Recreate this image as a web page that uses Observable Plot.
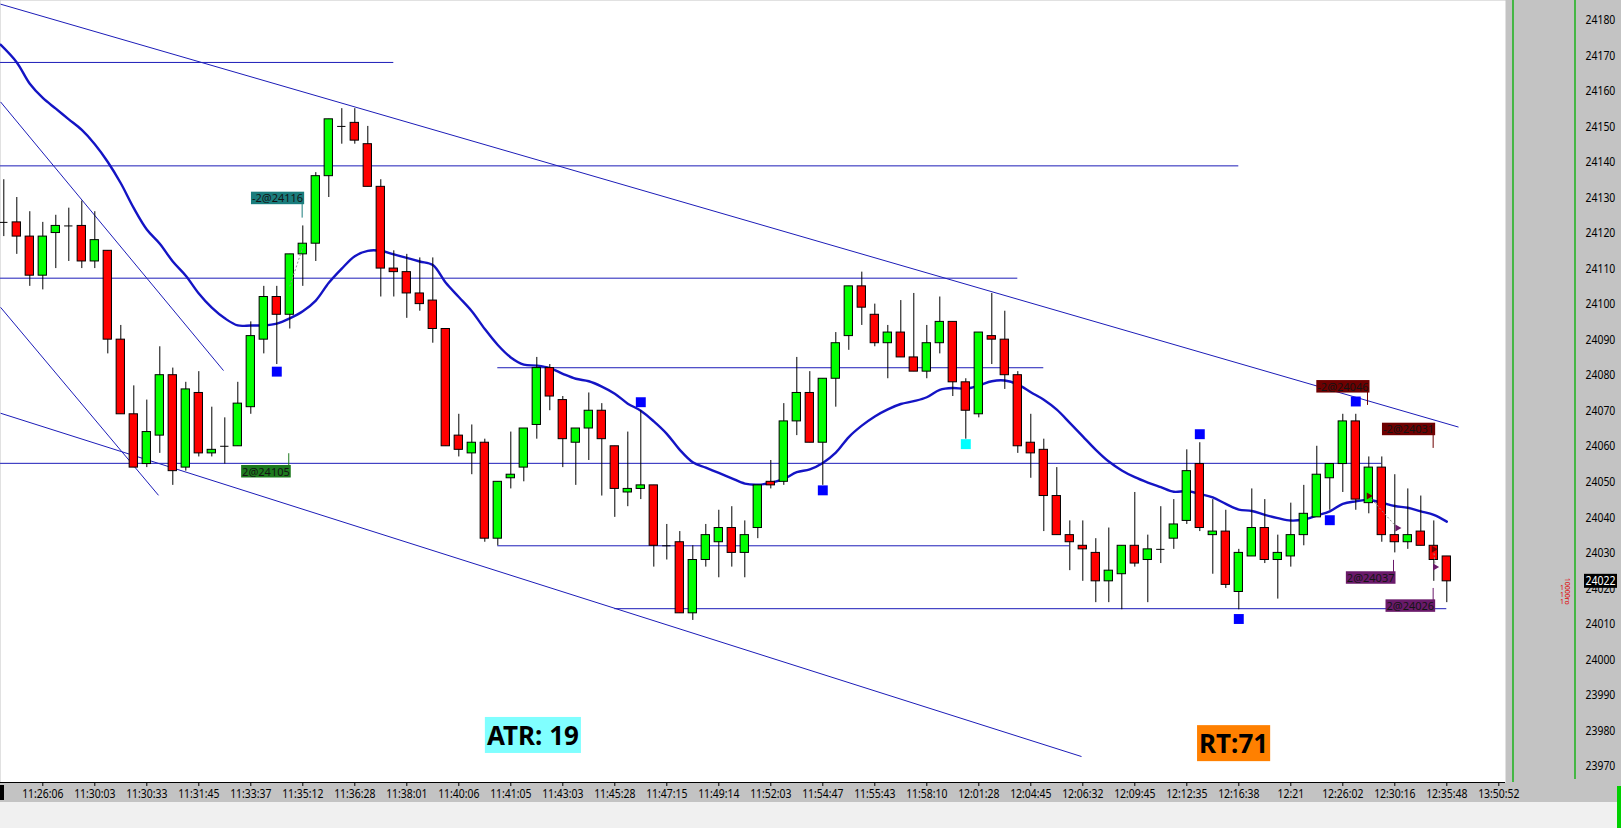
<!DOCTYPE html>
<html>
<head>
<meta charset="utf-8">
<script src="https://cdn.jsdelivr.net/npm/d3@7"></script>
<script src="https://cdn.jsdelivr.net/npm/@observablehq/plot@0.6"></script>
<style>
  html, body { margin: 0; padding: 0; background: #f0f0f0; overflow: hidden; }
  #chart svg { display: block; }
</style>
</head>
<body>
<div id="chart"></div>
<script>
// ---------- DATA ----------
const openP = [24123,24123,24119,24108,24120,24122,24122,24112,24115,24090,24069,24055,24063,24080,24054,24075,24058,24060,24060,24071,
  24090,24102,24097,24114,24117,24136,24150,24151,24145,24133,24110,24109,24103,24101,24093,24063,24058,24061,24034,24051,
  24054,24066,24082,24073,24061,24065,24070,24060,24047,24048,24049,24032,24033,24013,24028,24033,24037,24030,24037,24050,
  24050,24067,24075,24061,24079,24091,24105,24097,24089,24092,24085,24081,24089,24095,24078,24069,24091,24090,24080,24061,
  24059,24046,24035,24032,24030,24022,24024,24032,24028,24031,24034,24039,24055,24035,24036,24019,24029,24037,24028,24029,
  24035,24040,24051,24055,24067,24044,24054,24035,24033,24036,24032,24029];
const highP = [24135,24130,24126,24123,24125,24127,24129,24126,24115,24094,24077,24073,24088,24082,24078,24081,24071,24068,24078,24095,
  24105,24105,24114,24122,24137,24152,24155,24155,24150,24135,24115,24114,24113,24113,24093,24069,24066,24062,24050,24064,
  24065,24085,24083,24074,24065,24075,24072,24060,24064,24070,24049,24038,24036,24032,24038,24042,24043,24039,24049,24056,
  24072,24085,24081,24079,24092,24105,24109,24100,24094,24101,24103,24094,24102,24095,24079,24092,24103,24098,24081,24069,
  24062,24054,24039,24039,24034,24037,24032,24047,24035,24043,24045,24059,24061,24045,24042,24031,24048,24045,24035,24044,
  24049,24060,24055,24069,24069,24057,24057,24052,24048,24046,24039,24029];
const lowP = [24119,24114,24105,24104,24110,24112,24110,24110,24086,24069,24054,24054,24058,24049,24053,24057,24057,24055,24060,24069,
  24086,24083,24093,24105,24112,24130,24145,24145,24133,24102,24102,24096,24098,24089,24060,24057,24052,24033,24032,24048,
  24050,24062,24070,24054,24049,24056,24046,24040,24043,24045,24026,24028,24013,24011,24026,24023,24026,24023,24034,24048,
  24049,24063,24061,24049,24071,24087,24094,24088,24079,24085,24081,24079,24086,24074,24062,24068,24083,24076,24058,24051,
  24036,24035,24025,24022,24016,24016,24014,24026,24016,24027,24031,24038,24036,24024,24020,24014,24029,24027,24017,24026,
  24032,24040,24042,24047,24042,24041,24033,24030,24031,24032,24022,24016];
const closeP = [24123,24119,24108,24119,24122,24122,24112,24118,24090,24069,24054,24064,24080,24053,24076,24058,24059,24060,24072,24091,
  24102,24097,24114,24117,24136,24152,24150,24146,24133,24110,24109,24103,24100,24093,24060,24059,24061,24034,24050,24052,
  24065,24082,24074,24062,24065,24070,24062,24048,24048,24049,24032,24032,24013,24028,24035,24037,24030,24035,24049,24049,
  24067,24075,24061,24079,24089,24105,24099,24089,24092,24085,24081,24089,24095,24078,24070,24092,24090,24080,24060,24058,
  24046,24035,24033,24031,24022,24025,24032,24027,24031,24031,24038,24053,24037,24036,24021,24030,24037,24028,24030,24035,
  24041,24052,24055,24067,24045,24054,24035,24033,24035,24032,24028,24022];
const maP = [24173,24168,24162,24158,24155,24152,24149,24145,24140,24134,24127,24121,24117,24112,24108,24103,24099,24096,24094,24094,
  24094,24094.5,24096,24098,24101,24106,24110,24113.5,24115,24115,24114,24113,24112,24111,24106,24102,24098,24093,24088.5,24085,
  24083,24082.7,24082,24080.4,24079,24078.3,24076.8,24074.8,24072,24070,24067,24063.5,24059,24055.5,24054,24052.5,24051,24049.5,24049.2,24049.7,
  24050.8,24052.7,24053.5,24055.3,24058.2,24062.6,24065.8,24068.4,24070.4,24071.9,24072.7,24073.8,24075.9,24076.4,24076.2,24077.1,24078.3,24078.5,24077.4,24075.2,
  24073.1,24070.3,24066.6,24062.8,24059,24055.7,24053.2,24051.3,24049.8,24048.5,24047.2,24047.4,24046.6,24045.6,24043.8,24042.2,24041.8,24040.7,24039.8,24039.1,
  24039.4,24040.5,24041.7,24043.8,24044.5,24044.9,24044.1,24043.2,24042.7,24041.7,24040.7,24038.8];

// x-axis tick labels (bar index -> time)
const tickIdx = [3,7,11,15,19,23,27,31,35,39,43,47,51,55,59,63,67,71,75,79,83,87,91,95,99,103,107,111,115];
const tickLabels = ["11:26:06","11:30:03","11:30:33","11:31:45","11:33:37","11:35:12","11:36:28","11:38:01","11:40:06","11:41:05",
  "11:43:03","11:45:28","11:47:15","11:49:14","11:52:03","11:54:47","11:55:43","11:58:10","12:01:28","12:04:45",
  "12:06:32","12:09:45","12:12:35","12:16:38","12:21","12:26:02","12:30:16","12:35:48","13:50:52"];
const yTicks = d3.range(23970, 24181, 10);

// horizontal levels
const levelPrice = [24168, 24138.9, 24107.3, 24082.1, 24055.2, 24032, 24014.3];
const levelFrom  = [-0.25, -0.25, -0.25, 38, -0.25, 38, 47];
const levelTo    = [30, 95, 78, 80, 106, 82, 111];

// trend lines
const trendFromIdx = [-0.25, -0.25, -0.25, -0.25];
const trendFromPrice = [24184.4, 24069.3, 24156.9, 24099.1];
const trendToIdx = [111.9, 82.9, 16.9, 11.9];
const trendToPrice = [24065.4, 23972.7, 24081.3, 24046.2];

// signal squares
const sqIdx = [21, 49, 63, 92, 95, 102, 104, 74];
const sqPrice = [24081, 24072.4, 24047.6, 24063.4, 24011.4, 24039.2, 24072.6, 24060.6];
const sqColor = ["#0000ff","#0000ff","#0000ff","#0000ff","#0000ff","#0000ff","#0000ff","#00ffff"];

// trade labels
const tradeText = ["-2@24116", "2@24105", "-2@24046", "-2@24031", "2@24037", "2@24026"];
const tradeIdx = [22.95, 21.92, 104.9, 109.95, 106.9, 109.95];
const tradePrice = [24129.6, 24052.7, 24076.6, 24064.6, 24022.8, 24014.9];
const tradeTickEnd = [24124.2, 24057.9, 24071.5, 24059.4, 24027.9, 24020.0];
const tradeColor = ["#1a7d7d", "#1d7a1d", "#6e0000", "#6e0000", "#6a1a6a", "#6a1a6a"];

// trade executions (markers) and connectors
const fillIdx = [105, 107.2, 110, 110.1];
const fillPrice = [24046, 24037, 24031, 24026];
const fillColor = ["#6e0000", "#6a1a6a", "#6e0000", "#6a1a6a"];
const connFromIdx = [22, 105, 110];
const connFromPrice = [24105, 24046, 24031];
const connToIdx = [23, 107.2, 110.1];
const connToPrice = [24116, 24037, 24026];

// info boxes
const infoText = ["ATR: 19", "RT:71"];
const infoIdx = [40.7, 94.6];
const infoPrice = [23978.3, 23976];
const infoColor = ["#80ffff", "#ff8000"];

const lastPrice = closeP[closeP.length - 1];

// ---------- CHART ----------
const bars = d3.range(openP.length);
const dojis = bars.filter(i => Math.abs(openP[i] - closeP[i]) < 0.5);
const bodies = bars.filter(i => Math.abs(openP[i] - closeP[i]) >= 0.5);
const half = 0.32;
const lineBlue = "#1c1cb8";
const axisFont = "'Noto Sans', sans-serif";

const chart = Plot.plot({
  width: 1621,
  height: 828,
  marginLeft: 0,
  marginRight: 116,
  marginTop: 0,
  marginBottom: 46,
  style: {
    background: "linear-gradient(to bottom, #c3c3c3 0px, #c3c3c3 802px, #f0f0f0 802px)",
    fontFamily: axisFont,
    fontSize: "13px",
    color: "black",
    overflow: "visible"
  },
  x: { domain: [-3.3 / 13, (1505 - 3.3) / 13] },
  y: { domain: [24180 - 762.7 / 3.554, 24180 + 19.3 / 3.554] },
  marks: [
    Plot.frame({ fill: "white", stroke: "none" }),
    Plot.ruleY(d3.range(levelPrice.length), {
      y: i => levelPrice[i], x1: i => levelFrom[i], x2: i => levelTo[i],
      stroke: lineBlue, strokeWidth: 1
    }),
    Plot.link(d3.range(trendFromIdx.length), {
      x1: i => trendFromIdx[i], y1: i => trendFromPrice[i],
      x2: i => trendToIdx[i], y2: i => trendToPrice[i],
      stroke: lineBlue, strokeWidth: 1
    }),
    Plot.line(bars, { x: i => (i === 0 ? -0.25 : i), y: i => maP[i], stroke: "#1414c4", strokeWidth: 2.4, curve: "catmull-rom" }),
    Plot.ruleX(bars, { x: i => i, y1: i => lowP[i], y2: i => highP[i], stroke: "black", strokeWidth: 1 }),
    Plot.rect(bodies, {
      x1: i => i - half, x2: i => i + half,
      y1: i => Math.min(openP[i], closeP[i]), y2: i => Math.max(openP[i], closeP[i]),
      fill: i => (closeP[i] > openP[i] ? "#00ff00" : "#ff0000"),
      stroke: "black", strokeWidth: 1
    }),
    Plot.ruleY(dojis, { y: i => openP[i], x1: i => i - half, x2: i => i + half, stroke: "black", strokeWidth: 1 }),
    Plot.link(d3.range(connFromIdx.length), {
      x1: i => connFromIdx[i], y1: i => connFromPrice[i],
      x2: i => connToIdx[i], y2: i => connToPrice[i],
      stroke: "#909090", strokeWidth: 1, strokeDasharray: "2,2"
    }),
    Plot.dot(d3.range(fillIdx.length), {
      x: i => fillIdx[i], y: i => fillPrice[i], symbol: "triangle", r: 2.6,
      fill: i => fillColor[i], stroke: "none", rotate: 90
    }),
    Plot.dot(d3.range(sqIdx.length), {
      x: i => sqIdx[i], y: i => sqPrice[i], symbol: "square", r: 5.6,
      fill: i => sqColor[i], stroke: "none"
    }),
    Plot.ruleX(d3.range(tradeText.length), {
      x: i => tradeIdx[i], y1: i => tradePrice[i], y2: i => tradeTickEnd[i],
      stroke: i => tradeColor[i], strokeWidth: 1
    }),
    Plot.text(d3.range(tradeText.length), {
      x: i => tradeIdx[i], y: i => tradePrice[i], text: i => tradeText[i],
      textAnchor: "end", dx: 1, fontSize: 11, fontFamily: "'Noto Sans', sans-serif",
      fill: "#141414", className: "trade-label"
    }),
    Plot.text(d3.range(infoText.length), {
      x: i => infoIdx[i], y: i => infoPrice[i], text: i => infoText[i],
      fontSize: 26, fontWeight: "bold", fontFamily: "'Noto Sans', sans-serif",
      fill: "black", className: "info-label"
    }),
    Plot.axisX({
      ticks: tickIdx, tickFormat: d => tickLabels[tickIdx.indexOf(d)],
      tickSize: 4, tickPadding: 2, fontSize: 13, stroke: "black", fill: "black", className: "xlab"
    }),
    Plot.ruleY([0], { y: () => 24180 - 762.7 / 3.554, stroke: "black", strokeWidth: 1.2 }),
    Plot.axisY({
      anchor: "right", ticks: yTicks, tickFormat: d => String(d),
      tickSize: 0, tickPadding: 80, fontSize: 13, fill: "black", className: "ylab"
    })
  ]
});

document.getElementById("chart").appendChild(chart);

// ---------- narrow axis labels ----------
chart.querySelectorAll("g.xlab text, g.ylab text").forEach(t => {
  const w = t.getComputedTextLength();
  t.setAttribute("textLength", (w * 0.8).toFixed(1));
  t.setAttribute("lengthAdjust", "spacingAndGlyphs");
});

// ---------- label backgrounds ----------
const svgNS = "http://www.w3.org/2000/svg";
function boxes(cls, colors, padX, boxH) {
  const g = chart.querySelector("g." + cls);
  if (!g) return;
  const texts = Array.from(g.querySelectorAll("text"));
  texts.forEach((t, j) => {
    const b = t.getBBox();
    const r = document.createElementNS(svgNS, "rect");
    const cy = b.y + b.height / 2;
    r.setAttribute("x", b.x - padX);
    r.setAttribute("y", cy - boxH / 2);
    r.setAttribute("width", b.width + 2 * padX);
    r.setAttribute("height", boxH);
    r.setAttribute("fill", colors[j]);
    r.setAttribute("fill-opacity", 1);
    const tr = t.getAttribute("transform");
    if (tr) r.setAttribute("transform", tr);
    t.parentNode.insertBefore(r, t);
  });
}
boxes("trade-label", tradeColor, 1, 12.5);
boxes("info-label", infoColor, 2, 36);

// ---------- right panel decorations ----------
const xs = chart.scale("x"), ys = chart.scale("y");
const plotRight = xs.range[1];
const plotBottom = ys.range[0];
const deco = d3.select(chart).append("g").attr("text-anchor", "start");
deco.append("line").attr("x1", plotRight + 8).attr("x2", plotRight + 8)
  .attr("y1", 0).attr("y2", plotBottom).attr("stroke", "#00b000").attr("stroke-width", 1.3);
deco.append("line").attr("x1", plotRight + 70).attr("x2", plotRight + 70)
  .attr("y1", 0).attr("y2", plotBottom - 3).attr("stroke", "#00b000").attr("stroke-width", 1.3);
deco.append("rect").attr("x", 1617).attr("y", plotBottom + 4).attr("width", 4).attr("height", 42).attr("fill", "#00d000");
deco.append("rect").attr("x", 0).attr("y", plotBottom + 3).attr("width", 4).attr("height", 15).attr("fill", "black");
// current price marker
const yLast = ys.apply(lastPrice);
deco.append("rect").attr("x", plotRight + 79).attr("y", yLast - 7).attr("width", 33).attr("height", 14).attr("fill", "black");
deco.append("text").attr("x", plotRight + 80.5).attr("y", yLast).attr("dy", "0.35em")
  .attr("fill", "white").attr("font-size", 13).attr("font-family", axisFont)
  .attr("textLength", 30).attr("lengthAdjust", "spacingAndGlyphs").text(String(lastPrice));
// small red marker text near price axis
["1", "1", "1"].forEach((s, j) => {
  deco.append("text").attr("x", plotRight + 55).attr("y", yLast + 9 + j * 7).attr("fill", "#e00000")
    .attr("font-size", 7).attr("font-family", axisFont).text(s);
});
deco.append("text").attr("transform", `translate(${plotRight + 60},${yLast - 3}) rotate(90)`)
  .attr("fill", "#e00000").attr("font-size", 7).attr("font-family", axisFont).text("10000ro");
</script>
</body>
</html>
